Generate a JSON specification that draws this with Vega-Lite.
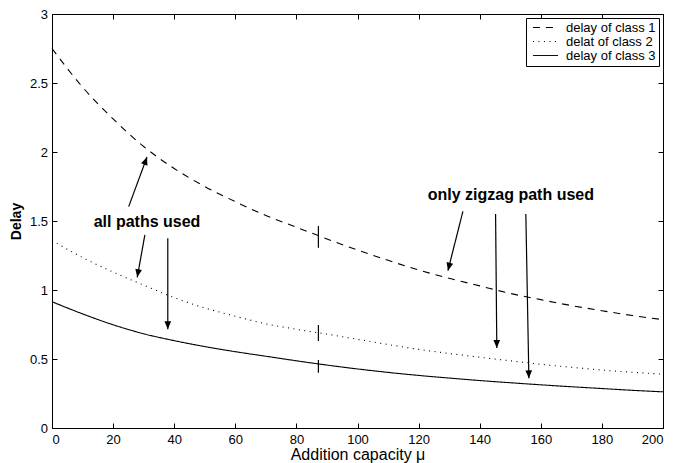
{
  "$schema": "https://vega.github.io/schema/vega-lite/v6.json",
  "width": 611,
  "height": 414,
  "autosize": {"type": "none"},
  "padding": {"left": 52, "top": 14, "right": 10, "bottom": 35},
  "background": "white",
  "config": {
    "font": "Liberation Sans",
    "view": {"stroke": "black", "strokeWidth": 1},
    "axis": {"grid": false, "domainColor": "black", "tickColor": "black", "labelColor": "black", "titleColor": "black", "labelFontSize": 13, "tickSize": -5}
  },
  "datasets": {
    "curves": [
      {"mu": 0, "delay": 2.75, "series": "delay of class 1"},
      {"mu": 10, "delay": 2.47, "series": "delay of class 1"},
      {"mu": 20, "delay": 2.24, "series": "delay of class 1"},
      {"mu": 30, "delay": 2.04, "series": "delay of class 1"},
      {"mu": 40, "delay": 1.88, "series": "delay of class 1"},
      {"mu": 50, "delay": 1.75, "series": "delay of class 1"},
      {"mu": 60, "delay": 1.64, "series": "delay of class 1"},
      {"mu": 70, "delay": 1.54, "series": "delay of class 1"},
      {"mu": 80, "delay": 1.455, "series": "delay of class 1"},
      {"mu": 90, "delay": 1.37, "series": "delay of class 1"},
      {"mu": 100, "delay": 1.29, "series": "delay of class 1"},
      {"mu": 110, "delay": 1.215, "series": "delay of class 1"},
      {"mu": 120, "delay": 1.145, "series": "delay of class 1"},
      {"mu": 130, "delay": 1.085, "series": "delay of class 1"},
      {"mu": 140, "delay": 1.03, "series": "delay of class 1"},
      {"mu": 150, "delay": 0.975, "series": "delay of class 1"},
      {"mu": 160, "delay": 0.93, "series": "delay of class 1"},
      {"mu": 170, "delay": 0.887, "series": "delay of class 1"},
      {"mu": 180, "delay": 0.85, "series": "delay of class 1"},
      {"mu": 190, "delay": 0.815, "series": "delay of class 1"},
      {"mu": 200, "delay": 0.785, "series": "delay of class 1"},
      {"mu": 0, "delay": 1.36, "series": "delat of class 2"},
      {"mu": 10, "delay": 1.235, "series": "delat of class 2"},
      {"mu": 20, "delay": 1.13, "series": "delat of class 2"},
      {"mu": 30, "delay": 1.035, "series": "delat of class 2"},
      {"mu": 40, "delay": 0.945, "series": "delat of class 2"},
      {"mu": 50, "delay": 0.87, "series": "delat of class 2"},
      {"mu": 60, "delay": 0.81, "series": "delat of class 2"},
      {"mu": 70, "delay": 0.755, "series": "delat of class 2"},
      {"mu": 80, "delay": 0.715, "series": "delat of class 2"},
      {"mu": 90, "delay": 0.68, "series": "delat of class 2"},
      {"mu": 100, "delay": 0.643, "series": "delat of class 2"},
      {"mu": 110, "delay": 0.605, "series": "delat of class 2"},
      {"mu": 120, "delay": 0.57, "series": "delat of class 2"},
      {"mu": 130, "delay": 0.54, "series": "delat of class 2"},
      {"mu": 140, "delay": 0.513, "series": "delat of class 2"},
      {"mu": 150, "delay": 0.487, "series": "delat of class 2"},
      {"mu": 160, "delay": 0.462, "series": "delat of class 2"},
      {"mu": 170, "delay": 0.44, "series": "delat of class 2"},
      {"mu": 180, "delay": 0.42, "series": "delat of class 2"},
      {"mu": 190, "delay": 0.404, "series": "delat of class 2"},
      {"mu": 200, "delay": 0.39, "series": "delat of class 2"},
      {"mu": 0, "delay": 0.915, "series": "delay of class 3"},
      {"mu": 10, "delay": 0.827, "series": "delay of class 3"},
      {"mu": 20, "delay": 0.748, "series": "delay of class 3"},
      {"mu": 30, "delay": 0.683, "series": "delay of class 3"},
      {"mu": 40, "delay": 0.633, "series": "delay of class 3"},
      {"mu": 50, "delay": 0.59, "series": "delay of class 3"},
      {"mu": 60, "delay": 0.553, "series": "delay of class 3"},
      {"mu": 70, "delay": 0.52, "series": "delay of class 3"},
      {"mu": 80, "delay": 0.487, "series": "delay of class 3"},
      {"mu": 90, "delay": 0.456, "series": "delay of class 3"},
      {"mu": 100, "delay": 0.428, "series": "delay of class 3"},
      {"mu": 110, "delay": 0.403, "series": "delay of class 3"},
      {"mu": 120, "delay": 0.381, "series": "delay of class 3"},
      {"mu": 130, "delay": 0.362, "series": "delay of class 3"},
      {"mu": 140, "delay": 0.344, "series": "delay of class 3"},
      {"mu": 150, "delay": 0.328, "series": "delay of class 3"},
      {"mu": 160, "delay": 0.313, "series": "delay of class 3"},
      {"mu": 170, "delay": 0.299, "series": "delay of class 3"},
      {"mu": 180, "delay": 0.286, "series": "delay of class 3"},
      {"mu": 190, "delay": 0.273, "series": "delay of class 3"},
      {"mu": 200, "delay": 0.262, "series": "delay of class 3"}
    ],
    "markers": [
      {"mu": 87.2, "lo": 1.307, "hi": 1.464},
      {"mu": 87.2, "lo": 0.63, "hi": 0.746},
      {"mu": 87.2, "lo": 0.401, "hi": 0.493}
    ],
    "arrows": [
      {"x": 25.1, "y": 1.604, "x2": 31.1, "y2": 1.964, "angle": 20},
      {"x": 30.4, "y": 1.399, "x2": 27.9, "y2": 1.092, "angle": 190},
      {"x": 37.9, "y": 1.375, "x2": 37.9, "y2": 0.715, "angle": 180},
      {"x": 134.5, "y": 1.57, "x2": 129.6, "y2": 1.14, "angle": 194},
      {"x": 145.2, "y": 1.551, "x2": 145.6, "y2": 0.58, "angle": 179.5},
      {"x": 155.1, "y": 1.551, "x2": 156.1, "y2": 0.36, "angle": 179}
    ],
    "labels": [
      {"mu": 31.1, "delay": 1.49, "text": "all paths used"},
      {"mu": 150.2, "delay": 1.69, "text": "only zigzag path used"}
    ]
  },
  "resolve": {"axis": {"x": "independent", "y": "independent"}},
  "layer": [
    {
      "data": {"name": "curves"},
      "mark": {"type": "line", "color": "black", "strokeWidth": 1.1, "interpolate": "monotone"},
      "encoding": {
        "x": {"field": "mu", "type": "quantitative", "scale": {"domain": [0, 200], "nice": false},
          "axis": {"values": [0, 20, 40, 60, 80, 100, 120, 140, 160, 180, 200], "labelPadding": 10, "title": "Addition capacity μ", "titleFontSize": 16, "titleFontWeight": "normal", "titlePadding": 0}},
        "y": {"field": "delay", "type": "quantitative", "scale": {"domain": [0, 3], "nice": false},
          "axis": {"values": [0, 0.5, 1, 1.5, 2, 2.5, 3], "format": "~g", "labelPadding": 9.5, "title": "Delay", "titleFontSize": 14, "titleFontWeight": "bold", "titlePadding": 6}},
        "strokeDash": {"field": "series", "type": "nominal",
          "scale": {"domain": ["delay of class 1", "delat of class 2", "delay of class 3"], "range": [[7, 6], [1, 4.5], [1, 0]]},
          "legend": {"title": null, "orient": "top-right", "offset": 4, "strokeColor": "black", "fillColor": "white", "padding": 3, "labelFontSize": 13, "symbolType": "M-3,0H3", "symbolSize": 70, "symbolOffset": 10, "symbolStrokeWidth": 1, "symbolStrokeColor": "black", "labelOffset": 14, "rowPadding": -1, "cornerRadius": 0}}
      }
    },
    {
      "data": {"name": "markers"},
      "mark": {"type": "rule", "color": "black", "strokeWidth": 1.2},
      "encoding": {
        "x": {"field": "mu", "type": "quantitative", "scale": {"domain": [0, 200], "nice": false},
          "axis": {"orient": "top", "values": [0, 20, 40, 60, 80, 100, 120, 140, 160, 180, 200], "labels": false, "domain": false, "title": null}},
        "y": {"field": "lo", "type": "quantitative", "scale": {"domain": [0, 3], "nice": false},
          "axis": {"orient": "right", "values": [0, 0.5, 1, 1.5, 2, 2.5, 3], "labels": false, "domain": false, "title": null}},
        "y2": {"field": "hi"}
      }
    },
    {
      "data": {"name": "arrows"},
      "mark": {"type": "rule", "color": "black", "strokeWidth": 1.2},
      "encoding": {
        "x": {"field": "x", "type": "quantitative", "axis": null},
        "y": {"field": "y", "type": "quantitative", "axis": null},
        "x2": {"field": "x2"},
        "y2": {"field": "y2"}
      }
    },
    {
      "data": {"name": "arrows"},
      "mark": {"type": "point", "shape": "M0,0L-0.42,1L0.42,1Z", "filled": true, "color": "black", "size": 256, "opacity": 1},
      "encoding": {
        "x": {"field": "x2", "type": "quantitative", "axis": null},
        "y": {"field": "y2", "type": "quantitative", "axis": null},
        "angle": {"field": "angle", "type": "quantitative", "scale": null}
      }
    },
    {
      "data": {"name": "labels"},
      "mark": {"type": "text", "fontSize": 16, "fontWeight": "bold", "color": "black", "align": "center", "baseline": "middle"},
      "encoding": {
        "x": {"field": "mu", "type": "quantitative", "axis": null},
        "y": {"field": "delay", "type": "quantitative", "axis": null},
        "text": {"field": "text"}
      }
    }
  ]
}
